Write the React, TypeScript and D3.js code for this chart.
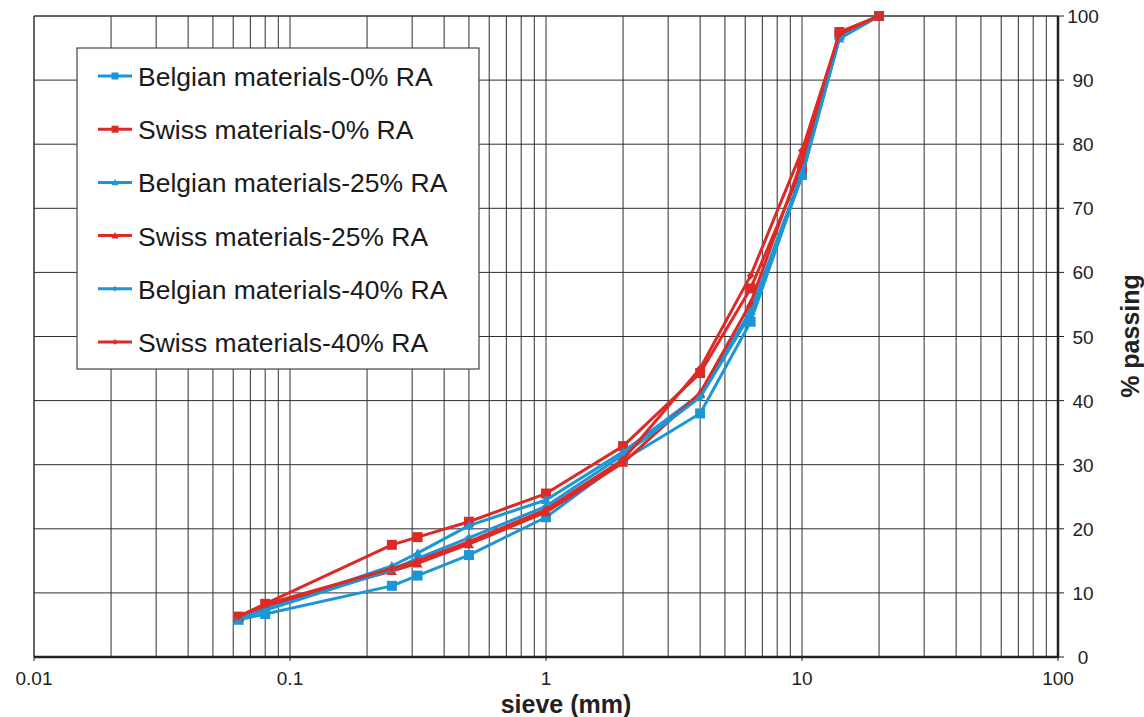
import React from "react";
import * as d3 from "d3";

const sieves = [0.063, 0.08, 0.25, 0.315, 0.5, 1, 2, 4, 6.3, 10, 14, 20];
const belgian0 = [5.8, 6.7, 11.1, 12.7, 15.9, 21.8, 30.7, 38, 52.3, 75.2, 97, 100];
const swiss0 = [6.3, 8.3, 17.5, 18.7, 21.1, 25.5, 32.9, 44.3, 57.5, 76.3, 97.5, 100];
const belgian25 = [6, 7.5, 14.2, 16.2, 20.5, 24.5, 32, 41, 54, 75.5, 96.5, 100];
const swiss25 = [6.3, 8, 13.4, 14.6, 17.6, 22.6, 30.3, 41.2, 55.2, 77.5, 97.2, 100];
const belgian40 = [6, 7.3, 13.6, 15.4, 18.6, 23.5, 31.5, 40.5, 53.5, 75, 96.5, 100];
const swiss40 = [6.3, 8.2, 13.8, 15, 18, 23, 30.8, 45, 59.5, 79, 97.2, 100];

const seriesNames = [
  "Belgian materials-0% RA",
  "Swiss materials-0% RA",
  "Belgian materials-25% RA",
  "Swiss materials-25% RA",
  "Belgian materials-40% RA",
  "Swiss materials-40% RA",
];
const seriesValues = [belgian0, swiss0, belgian25, swiss25, belgian40, swiss40];
const seriesMarkers = ["square", "square", "triangle", "triangle", "diamond", "diamond"];
const BLUE = "#1b97d8";
const RED = "#dc2a27";
const seriesColors = [BLUE, RED, BLUE, RED, BLUE, RED];

const xMajorTicks = [0.01, 0.1, 1, 10, 100];
const xTickLabels = ["0.01", "0.1", "1", "10", "100"];
const yTicks = [0, 10, 20, 30, 40, 50, 60, 70, 80, 90, 100];

const L = 34, R = 1058, T = 16, B = 657;

function Marker({ type, x, y, color, s = 1 }: any) {
  if (type === "square") {
    const h = 5 * s;
    return <rect x={x - h} y={y - h} width={2 * h} height={2 * h} fill={color} />;
  }
  if (type === "triangle") {
    const h = 5 * s;
    return <path d={`M${x},${y - h} L${x + h},${y + h * 0.8} L${x - h},${y + h * 0.8} Z`} fill={color} />;
  }
  const h = 4 * s;
  return <path d={`M${x},${y - h} L${x + h},${y} L${x},${y + h} L${x - h},${y} Z`} fill={color} />;
}

export default function App() {
  const x = d3.scaleLog().domain([0.01, 100]).range([L, R]);
  const y = d3.scaleLinear().domain([0, 100]).range([B, T]);
  const minor: number[] = [];
  for (let e = -2; e < 2; e++) {
    for (let k = 1; k <= 9; k++) minor.push(k * Math.pow(10, e));
  }
  const line = d3
    .line<number>()
    .x((_, i) => x(sieves[i]))
    .y((d) => y(d));

  return (
    <svg
      width={1144}
      height={717}
      style={{ position: "absolute", left: 0, top: 0, background: "#fff" }}
      fontFamily="'Liberation Sans', Arial, sans-serif"
    >
      {/* grid */}
      {minor.map((v, i) => (
        <line key={"vx" + i} x1={x(v)} x2={x(v)} y1={T} y2={B} stroke="#2e2e2e" strokeWidth={1} />
      ))}
      {yTicks.map((v) => (
        <line key={"hy" + v} x1={L} x2={R} y1={y(v)} y2={y(v)} stroke="#2e2e2e" strokeWidth={1} />
      ))}
      {/* frame */}
      <line x1={L} x2={R} y1={T} y2={T} stroke="#333" strokeWidth={1} />
      <line x1={L} x2={L} y1={T} y2={B} stroke="#333" strokeWidth={1} />
      <line x1={L} x2={R + 1} y1={B} y2={B} stroke="#222" strokeWidth={2.5} />
      <line x1={R} x2={R} y1={T} y2={B} stroke="#222" strokeWidth={2.5} />
      {/* y ticks */}
      {yTicks.map((v) => (
        <g key={"yt" + v}>
          <line x1={R} x2={R + 6} y1={y(v)} y2={y(v)} stroke="#222" strokeWidth={1} />
          <text x={R + 25} y={y(v) + 7} fontSize={19} textAnchor="middle" fill="#222">
            {v}
          </text>
        </g>
      ))}
      {/* x ticks */}
      {xMajorTicks.map((v, i) => (
        <g key={"xt" + v}>
          <line x1={x(v)} x2={x(v)} y1={B} y2={B + 4} stroke="#222" strokeWidth={1} />
          <text
            x={x(v)}
            y={B + 28}
            fontSize={19}
            textAnchor="middle"
            fill="#222"
            fontFamily="'Liberation Sans Narrow', 'Liberation Sans', Arial, sans-serif"
          >
            {xTickLabels[i]}
          </text>
        </g>
      ))}
      <text x={566} y={713} fontSize={25} fontWeight="bold" textAnchor="middle" fill="#222">
        sieve (mm)
      </text>
      <text
        transform={`translate(1139,336) rotate(-90)`}
        fontSize={25}
        fontWeight="bold"
        textAnchor="middle"
        fill="#222"
      >
        % passing
      </text>
      {/* series */}
      {seriesValues.map((vals, si) => (
        <g key={"s" + si}>
          <path d={line(vals) || ""} fill="none" stroke={seriesColors[si]} strokeWidth={3} strokeLinejoin="round" />
          {vals.map((v, i) => (
            <Marker key={i} type={seriesMarkers[si]} x={x(sieves[i])} y={y(v)} color={seriesColors[si]} />
          ))}
        </g>
      ))}
      {/* legend */}
      <rect x={77} y={48} width={402} height={321} fill="#fff" stroke="#444" strokeWidth={1.2} />
      {seriesNames.map((n, i) => {
        const ly = 77 + i * 53.2;
        return (
          <g key={"lg" + i}>
            <line x1={98} x2={132} y1={ly - 1} y2={ly - 1} stroke={seriesColors[i]} strokeWidth={3} />
            <Marker type={seriesMarkers[i]} x={115} y={ly - 1} color={seriesColors[i]} s={0.7} />
            <text x={138} y={ly + 9} fontSize={26.5} fill="#1a1a1a">
              {n}
            </text>
          </g>
        );
      })}
    </svg>
  );
}
